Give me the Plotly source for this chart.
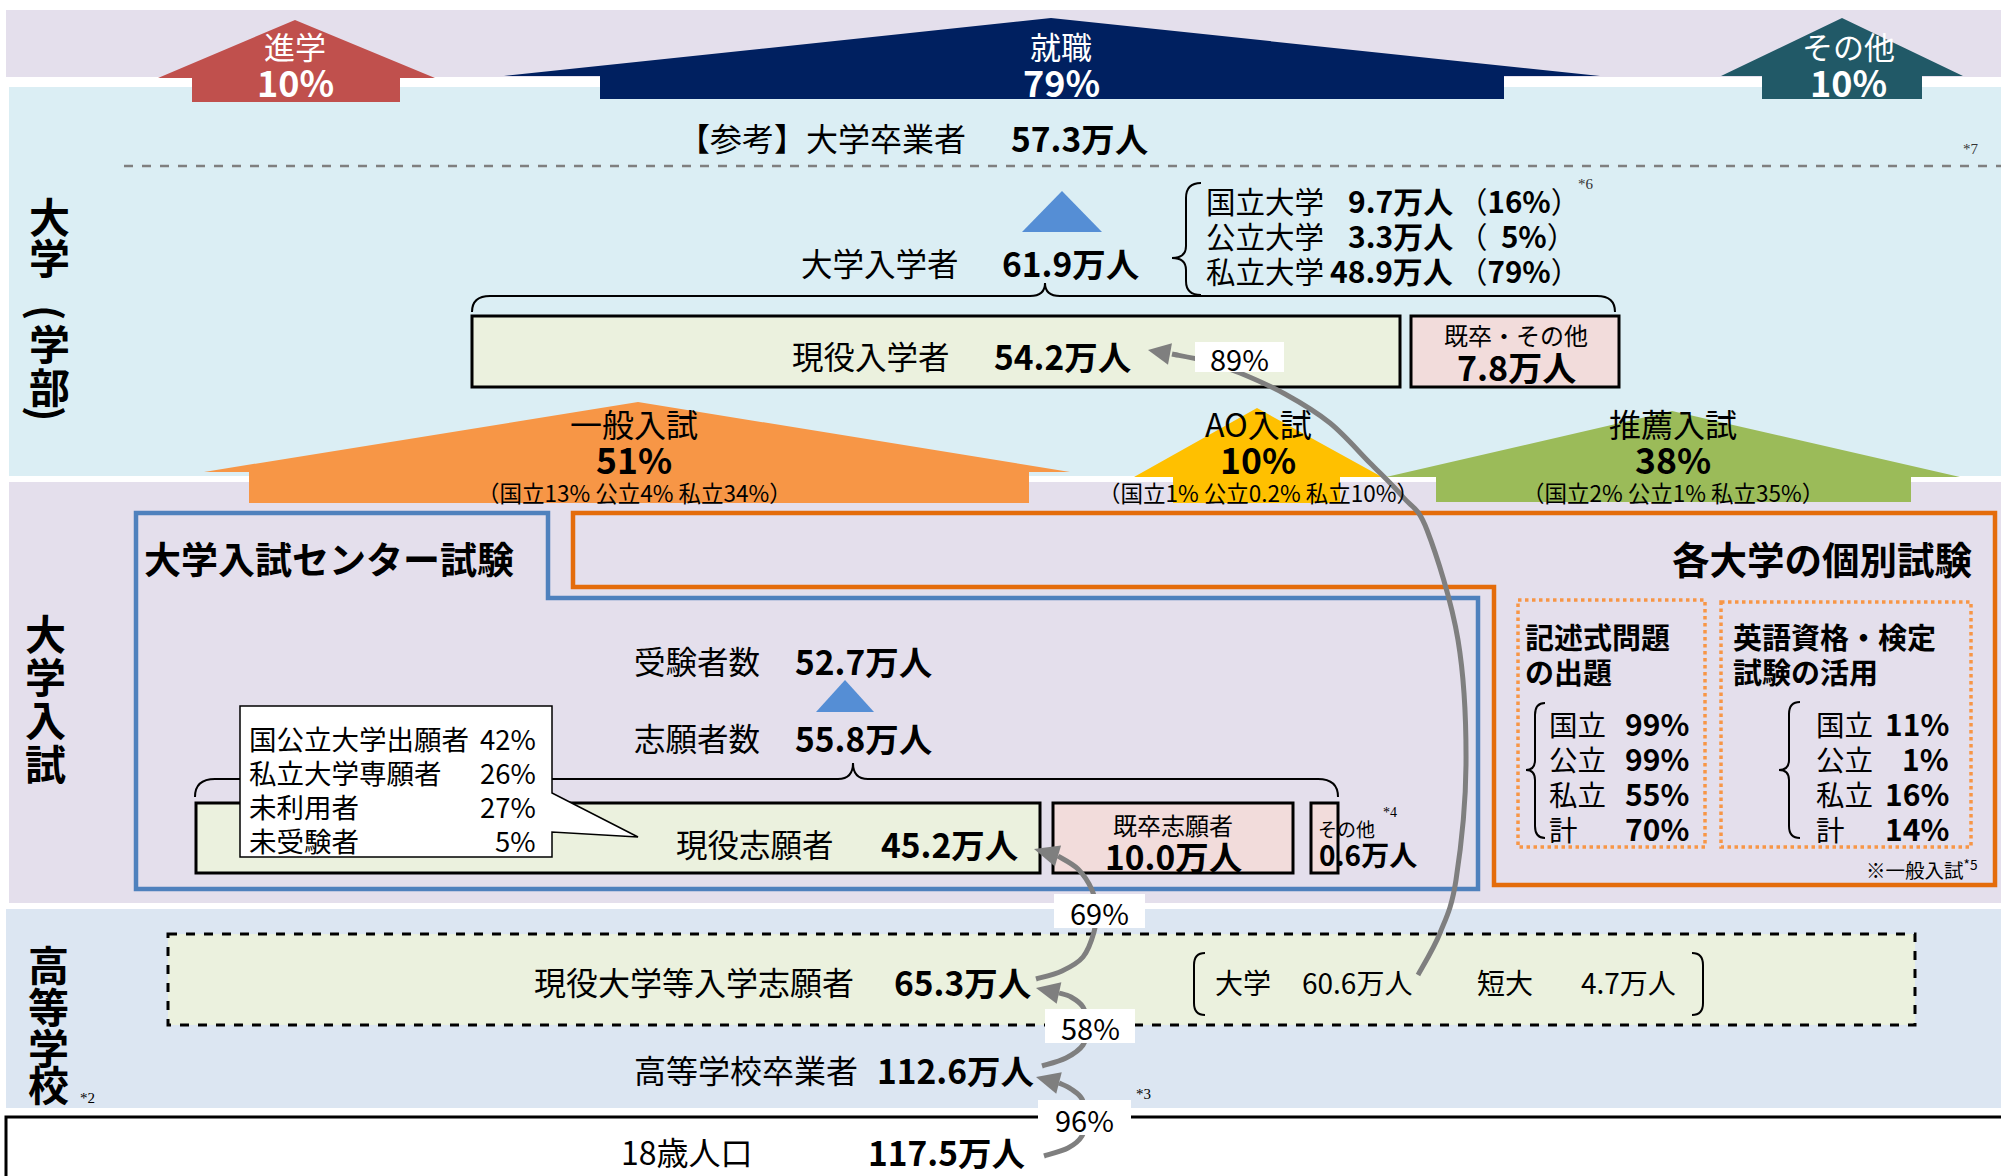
import plotly.graph_objects as go

# ---------------- data ----------------
OUTCOME_LABELS = ["進学", "就職", "その他"]
OUTCOME_PCT = [10, 79, 10]
GRADUATES = 57.3
ENTRANTS = 61.9
UNIV_TYPES = ["国立大学", "公立大学", "私立大学"]
UNIV_TYPE_COUNTS = [9.7, 3.3, 48.9]
UNIV_TYPE_PCT = [16, 5, 79]
CURRENT_ENTRANTS = 54.2
OTHER_ENTRANTS = 7.8
EXAM_TYPES = ["一般入試", "AO入試", "推薦入試"]
EXAM_PCT = [51, 10, 38]
EXAM_BREAKDOWN = [[13, 4, 34], [1, 0.2, 10], [2, 1, 35]]
CENTER_EXAMINEES = 52.7
CENTER_APPLICANTS = 55.8
CALLOUT_LABELS = ["国公立大学出願者", "私立大学専願者", "未利用者", "未受験者"]
CALLOUT_PCT = [42, 26, 27, 5]
CURRENT_APPLICANTS = 45.2
GRAD_APPLICANTS = 10.0
OTHER_APPLICANTS = 0.6
SECTOR_LABELS = ["国立", "公立", "私立", "計"]
WRITTEN_PCT = [99, 99, 55, 70]
ENGLISH_PCT = [11, 1, 16, 14]
HS_APPLICANTS = 65.3
HS_APP_UNIV = 60.6
HS_APP_JC = 4.7
HS_GRADUATES = 112.6
POP_18 = 117.5
FLOW_PCT = [89, 69, 58, 96]

FONT = "Noto Sans CJK JP"
W, H = 2001, 1176
REG = 31.5   # regular main text size
NUM = 33.5   # bold figure size

shapes = []
annots = []


def man(v):
    return f"{v:.1f}万人"


def rect(x0, y0, x1, y1, fill="rgba(0,0,0,0)", line=None, lw=0, dash="solid"):
    shapes.append(dict(type="rect", xref="x", yref="y", x0=x0, y0=y0, x1=x1, y1=y1,
                       fillcolor=fill, line=dict(color=line or "rgba(0,0,0,0)", width=lw, dash=dash),
                       layer="above"))


def poly(pts, fill, line=None, lw=0):
    d = "M " + " L ".join(f"{x},{y}" for x, y in pts) + " Z"
    shapes.append(dict(type="path", xref="x", yref="y", path=d, fillcolor=fill,
                       line=dict(color=line or "rgba(0,0,0,0)", width=lw), layer="above"))


def path(d, color="black", lw=2, fill="rgba(0,0,0,0)", dash="solid"):
    shapes.append(dict(type="path", xref="x", yref="y", path=d, fillcolor=fill,
                       line=dict(color=color, width=lw, dash=dash), layer="above"))


def txt(x, y, s, size=REG, color="black", bold=False, anchor="left", family=FONT, angle=0):
    if bold:
        s = f"<b>{s}</b>"
    annots.append(dict(x=x, y=y, xref="x", yref="y", text=s, showarrow=False,
                       xanchor=anchor, yanchor="middle", textangle=angle,
                       font=dict(size=size, color=color, family=family)))


def smooth(pts):
    d = f"M {pts[0][0]},{pts[0][1]}"
    n = len(pts)
    for i in range(n - 1):
        p0 = pts[i - 1] if i > 0 else pts[i]
        p1, p2 = pts[i], pts[i + 1]
        p3 = pts[i + 2] if i + 2 < n else pts[i + 1]
        c1 = (p1[0] + (p2[0] - p0[0]) / 6, p1[1] + (p2[1] - p0[1]) / 6)
        c2 = (p2[0] - (p3[0] - p1[0]) / 6, p2[1] - (p3[1] - p1[1]) / 6)
        d += f" C {c1[0]:.1f},{c1[1]:.1f} {c2[0]:.1f},{c2[1]:.1f} {p2[0]},{p2[1]}"
    return d


def head(base, tip, hw=11, color="#7F7F7F"):
    dx, dy = tip[0] - base[0], tip[1] - base[1]
    L = (dx * dx + dy * dy) ** 0.5
    nx, ny = -dy / L, dx / L
    poly([tip, (base[0] + nx * hw, base[1] + ny * hw), (base[0] - nx * hw, base[1] - ny * hw)], color)


GREY = "#7F7F7F"

# ---------------- bands ----------------
rect(6, 10, W + 5, 77, fill="#E4DFEC")
rect(9, 87, W + 5, 476, fill="#DBEEF4")
rect(9, 482, W + 5, 903, fill="#E4DFEC")
rect(6, 909, W + 5, 1108, fill="#DCE6F2")
rect(6, 1117, W + 10, H + 10, fill="white", line="black", lw=3)

# ---------------- outcome arrows ----------------
poly([(295, 20), (435, 78), (400, 78), (400, 102), (192, 102), (192, 78), (158, 78)], "#C0504D")
poly([(1051, 18), (1600, 76), (1504, 76), (1504, 99), (600, 99), (600, 76), (504, 76)], "#002060")
poly([(1842, 18), (1963, 76), (1922, 76), (1922, 99), (1762, 99), (1762, 76), (1721, 76)], "#215967")
for xc, lab, p in zip([295, 1061, 1848], OUTCOME_LABELS, OUTCOME_PCT):
    txt(xc, 45, lab, size=31, color="white", anchor="center")
    txt(xc, 81, f"{p}%", size=36, color="white", bold=True, anchor="center")

# ---------------- university section ----------------
txt(676, 137, "【参考】大学卒業者", size=32)
txt(1009, 137, man(GRADUATES), size=NUM, bold=True)
txt(1971, 149, "*7", size=15, color="#333333", anchor="center", family="Liberation Serif")
shapes.append(dict(type="line", xref="x", yref="y", x0=124, y0=166, x1=W + 5, y1=166,
                   line=dict(color="#7F7F7F", width=2.5, dash="dash"), layer="above"))

poly([(1022, 232), (1062, 191), (1102, 232)], "#558ED5")
txt(799, 262, "大学入学者", size=REG)
txt(1000, 262, man(ENTRANTS), size=NUM, bold=True)

# vertical brace for university types
path("M 1201 183 Q 1186 183 1186 198 L 1186 246 Q 1186 258 1172 258 Q 1186 258 1186 270 "
     "L 1186 281 Q 1186 295 1201 295", lw=2)
for i, (lab, c, p) in enumerate(zip(UNIV_TYPES, UNIV_TYPE_COUNTS, UNIV_TYPE_PCT)):
    y = 200 + 35 * i
    txt(1204, y, lab, size=29.5)
    txt(1455, y, man(c), size=30, bold=True, anchor="right")
    pct = f"{p}%" if p >= 10 else f"&nbsp;&nbsp;{p}%"
    txt(1456, y, f"（<b>{pct}</b>）", size=29.5)
txt(1586, 184, "*6", size=15, color="#333333", anchor="center", family="Liberation Serif")

# horizontal brace over entrants
path("M 472 312 Q 472 296 490 296 L 1030 296 Q 1045 296 1045 283 Q 1045 296 1060 296 "
     "L 1597 296 Q 1615 296 1615 312", lw=2)
rect(472, 316, 1400, 387, fill="#EBF1DE", line="black", lw=3)
rect(1411, 316, 1619, 387, fill="#F2DCDB", line="black", lw=3)
txt(790, 355, "現役入学者", size=REG)
txt(992, 355, man(CURRENT_ENTRANTS), size=NUM, bold=True)
txt(1516, 334, "既卒・その他", size=24, anchor="center")
txt(1516, 366, man(OTHER_ENTRANTS), size=34, bold=True, anchor="center")

# ---------------- exam-type arrows ----------------
poly([(638, 402), (1070, 472), (1029, 472), (1029, 503), (249, 503), (249, 472), (204, 472)], "#F79646")
poly([(1257, 408), (1382, 477), (1340, 477), (1340, 503), (1173, 503), (1173, 477), (1134, 477)], "#FFC000")
poly([(1672, 411), (1960, 477), (1911, 477), (1911, 502), (1436, 502), (1436, 477), (1386, 477)], "#9BBB59")
for xc, lab, p, bd in zip([634, 1258, 1673], EXAM_TYPES, EXAM_PCT, EXAM_BREAKDOWN):
    txt(xc, 423, lab, size=32, anchor="center")
    txt(xc, 458, f"{p}%", size=35.5, bold=True, anchor="center")
    txt(xc, 492, f"（国立{bd[0]:g}% 公立{bd[1]:g}% 私立{bd[2]:g}%）", size=22.5, anchor="center")

# ---------------- entrance exam section ----------------
poly([(573, 513), (1995, 513), (1995, 885), (1494, 885), (1494, 587), (573, 587)],
     "rgba(0,0,0,0)", line="#E46C0A", lw=4.5)
poly([(136, 513), (548, 513), (548, 598), (1478, 598), (1478, 889), (136, 889)],
     "rgba(0,0,0,0)", line="#4F81BD", lw=4.5)
txt(142, 558, "大学入試センター試験", size=37, bold=True)
txt(1974, 557, "各大学の個別試験", size=37.5, bold=True, anchor="right")

# individual exam dotted boxes
rect(1518, 600, 1705, 847, line="#F79646", lw=3.5, dash="dot")
rect(1721, 602, 1971, 847, line="#F79646", lw=3.5, dash="dot")
txt(1523, 636, "記述式問題", size=29, bold=True)
txt(1523, 671, "の出題", size=29, bold=True)
txt(1731, 636, "英語資格・検定", size=29, bold=True)
txt(1731, 671, "試験の活用", size=29, bold=True)
path("M 1545 703 Q 1535 703 1535 715 L 1535 760 Q 1535 770 1526 770 Q 1535 770 1535 780 "
     "L 1535 826 Q 1535 838 1545 838", lw=2)
path("M 1800 702 Q 1789 702 1789 714 L 1789 760 Q 1789 770 1779 770 Q 1789 770 1789 780 "
     "L 1789 826 Q 1789 838 1800 838", lw=2)
for i, (lab, a, b) in enumerate(zip(SECTOR_LABELS, WRITTEN_PCT, ENGLISH_PCT)):
    y = 723 + 35 * i
    txt(1547, y, lab, size=28.5)
    txt(1691, y, f"{a}%", size=30, bold=True, anchor="right")
    txt(1814, y, lab, size=28.5)
    txt(1951, y, f"{b}%", size=30, bold=True, anchor="right")
txt(1979, 869, "※一般入試<sup>*5</sup>", size=19.5, anchor="right")

# center exam content
txt(632, 660, "受験者数", size=REG)
txt(793, 660, man(CENTER_EXAMINEES), size=NUM, bold=True)
poly([(816, 712), (845, 680), (874, 712)], "#558ED5")
txt(632, 737, "志願者数", size=REG)
txt(793, 737, man(CENTER_APPLICANTS), size=NUM, bold=True)
path("M 195 797 Q 195 779 215 779 L 838 779 Q 853 779 853 763 Q 853 779 868 779 "
     "L 1318 779 Q 1338 779 1338 797", lw=2)
rect(196, 803, 1040, 873, fill="#EBF1DE", line="black", lw=3)
rect(1053, 803, 1293, 873, fill="#F2DCDB", line="black", lw=3)
rect(1311, 803, 1338, 873, fill="#F2DCDB", line="black", lw=3)
txt(674, 843, "現役志願者", size=REG)
txt(879, 843, man(CURRENT_APPLICANTS), size=NUM, bold=True)
txt(1173, 824, "既卒志願者", size=24, anchor="center")
txt(1173, 855, man(GRAD_APPLICANTS), size=33.5, bold=True, anchor="center")
txt(1316, 828, "その他", size=19)
txt(1390, 812, "*4", size=14, anchor="center", family="Liberation Serif")
txt(1317, 854, man(OTHER_APPLICANTS), size=28, bold=True)

# callout
poly([(240, 706), (552, 706), (552, 793), (638, 837), (552, 832), (552, 857), (240, 857)],
     "white", line="black", lw=1.5)
for i, (lab, p) in enumerate(zip(CALLOUT_LABELS, CALLOUT_PCT)):
    y = 738 + 34 * i
    txt(247, y, lab, size=27.5)
    txt(538, y, f"{p}%", size=27.5, anchor="right")

# ---------------- high school section ----------------
rect(168, 934, 1915, 1025, fill="#EBF1DE", line="black", lw=3, dash="dash")
txt(532, 981, "現役大学等入学志願者", size=32)
txt(892, 981, man(HS_APPLICANTS), size=NUM, bold=True)
path("M 1205 953 Q 1194 953 1194 965 L 1194 1003 Q 1194 1015 1205 1015", lw=2)
path("M 1692 953 Q 1703 953 1703 965 L 1703 1003 Q 1703 1015 1692 1015", lw=2)
txt(1213, 982, "大学", size=28)
txt(1300, 982, man(HS_APP_UNIV), size=28)
txt(1475, 982, "短大", size=28)
txt(1579, 982, man(HS_APP_JC), size=28)
txt(632, 1069, "高等学校卒業者", size=32)
txt(875, 1069, man(HS_GRADUATES), size=NUM, bold=True)
txt(1143, 1094, "*3", size=15, anchor="center", family="Liberation Serif")
txt(619, 1151, "18歳人口", size=32)
txt(866, 1151, man(POP_18), size=NUM, bold=True)

# ---------------- flow arrows ----------------
# 89%
path(smooth([(1418, 975), (1440, 933), (1456, 880), (1466, 765), (1458, 640), (1427, 530),
             (1403, 497), (1370, 463), (1330, 423), (1285, 394), (1240, 373), (1205, 361), (1172, 354)]),
     color=GREY, lw=5)
head((1170, 354), (1148, 350))
# 69%
path(smooth([(1036, 979), (1062, 971), (1083, 957), (1094, 932), (1096, 910), (1092, 890),
             (1078, 869), (1058, 856)]), color=GREY, lw=5)
head((1058, 856), (1034, 849))
# 58%
path(smooth([(1042, 1066), (1066, 1058), (1083, 1045), (1088, 1025), (1083, 1007), (1071, 997),
             (1059, 993)]), color=GREY, lw=5)
head((1059, 993), (1036, 988))
# 96%
path(smooth([(1044, 1156), (1068, 1148), (1082, 1136), (1086, 1118), (1082, 1099), (1071, 1089),
             (1059, 1083)]), color=GREY, lw=5)
head((1059, 1083), (1036, 1077))

for (x0, y0, x1, y1), p in zip([(1195, 342, 1284, 372), (1054, 894, 1145, 928),
                                 (1045, 1009, 1135, 1043), (1038, 1100, 1131, 1135)], FLOW_PCT):
    rect(x0, y0, x1, y1, fill="white")
    txt((x0 + x1) / 2, (y0 + y1) / 2 + 1, f"{p}%", size=29, anchor="center")

# ---------------- left section labels ----------------
for ch, y, ang in zip(["大", "学", "(", "学", "部", ")"], [215, 256, 313, 342, 385, 414],
                      [0, 0, 90, 0, 0, 90]):
    txt(49, y, ch, size=41, bold=True, anchor="center", angle=ang)
for ch, y in zip(["大", "学", "入", "試"], [632, 675, 718, 762]):
    txt(45, y, ch, size=41, bold=True, anchor="center")
for ch, y in zip(["高", "等", "学", "校"], [963, 1005, 1046, 1083]):
    txt(48, y, ch, size=41, bold=True, anchor="center")
txt(87, 1098, "*2", size=15, anchor="center", family="Liberation Serif")

fig = go.Figure()
fig.update_layout(
    width=W, height=H, autosize=False,
    margin=dict(l=0, r=0, t=0, b=0, pad=0),
    paper_bgcolor="white", plot_bgcolor="white",
    xaxis=dict(range=[0, W], visible=False, fixedrange=True),
    yaxis=dict(range=[H, 0], visible=False, fixedrange=True),
    shapes=shapes, annotations=annots,
    font=dict(family=FONT), showlegend=False,
)
fig.write_html("out.html", config={"displayModeBar": False},
               post_script="document.body.style.margin='0';document.body.style.overflow='hidden';")
